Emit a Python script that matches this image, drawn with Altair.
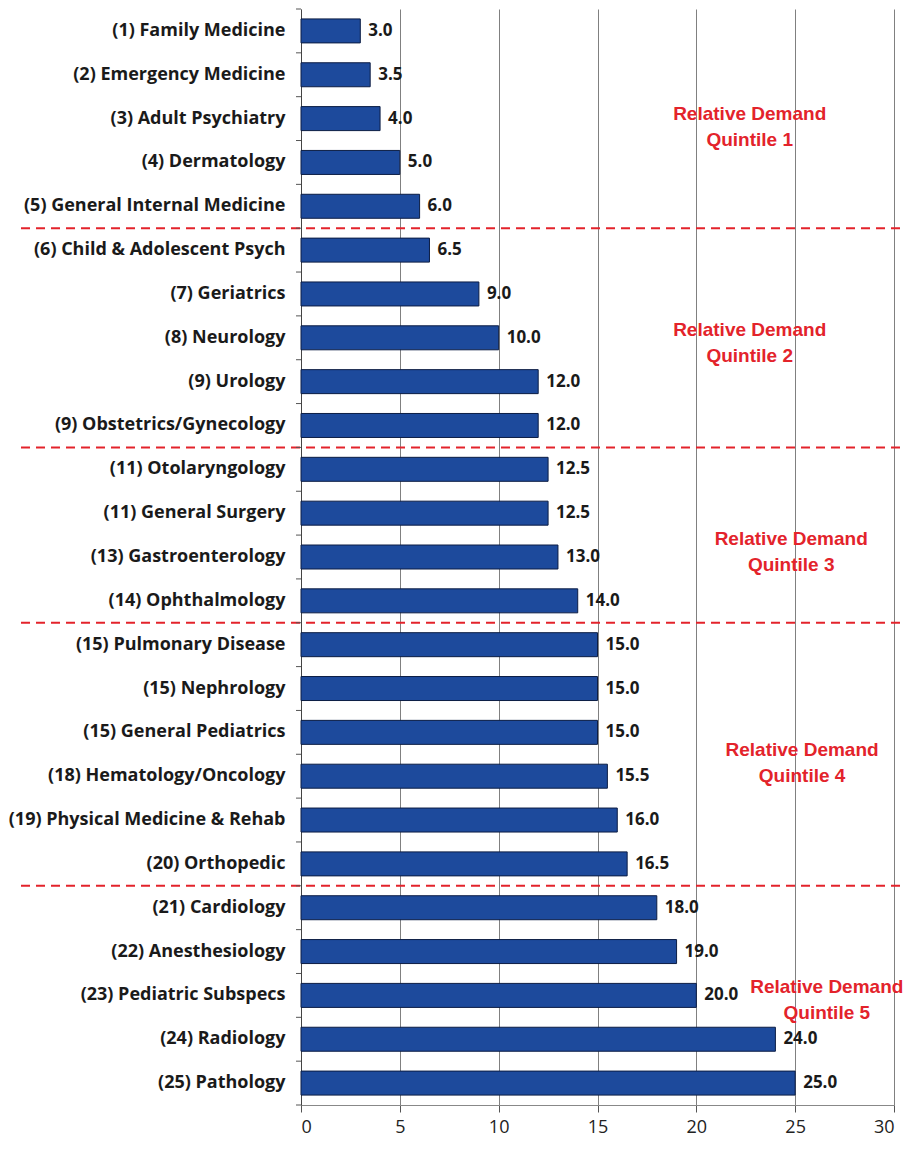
import altair as alt
import pandas as pd

specialties = [
    "(1) Family Medicine", "(2) Emergency Medicine", "(3) Adult Psychiatry",
    "(4) Dermatology", "(5) General Internal Medicine", "(6) Child & Adolescent Psych",
    "(7) Geriatrics", "(8) Neurology", "(9) Urology", "(9) Obstetrics/Gynecology",
    "(11) Otolaryngology", "(11) General Surgery", "(13) Gastroenterology",
    "(14) Ophthalmology", "(15) Pulmonary Disease", "(15) Nephrology",
    "(15) General Pediatrics", "(18) Hematology/Oncology",
    "(19) Physical Medicine & Rehab", "(20) Orthopedic", "(21) Cardiology",
    "(22) Anesthesiology", "(23) Pediatric Subspecs", "(24) Radiology",
    "(25) Pathology",
]
values = [3.0, 3.5, 4.0, 5.0, 6.0, 6.5, 9.0, 10.0, 12.0, 12.0, 12.5, 12.5, 13.0,
          14.0, 15.0, 15.0, 15.0, 15.5, 16.0, 16.5, 18.0, 19.0, 20.0, 24.0, 25.0]

# quintile boundaries (row index where a new quintile starts)
boundaries = [5, 10, 14, 20]
quintile_text = ["Relative Demand\nQuintile 1", "Relative Demand\nQuintile 2",
                 "Relative Demand\nQuintile 3", "Relative Demand\nQuintile 4",
                 "Relative Demand\nQuintile 5"]
quintile_x = [22.7, 22.7, 24.8, 25.35, 26.6]
quintile_row = [2.4, 7.33, 12.08, 16.9, 22.3]
row_ticks = list(range(0, 26))

df = pd.DataFrame({"specialty": specialties, "value": values})
bdf = pd.DataFrame({"row": boundaries})
qdf = pd.DataFrame({"text": quintile_text, "x": quintile_x, "row": quintile_row})
tdf = pd.DataFrame({"row": row_ticks})

ysc = alt.Scale(paddingInner=0, paddingOuter=0)
yenc = alt.Y("specialty:N", sort=specialties, scale=ysc, title=None,
             axis=alt.Axis(ticks=False, labelPadding=16, labelFontSize=18,
                           labelFont="Open Sans", labelFontWeight="bold",
                           labelColor="#1a1a1a", labelLimit=400,
                           domainColor="#444", domainWidth=1))
xenc = alt.X("value:Q", scale=alt.Scale(domain=[0, 30]), title=None,
             axis=alt.Axis(values=[0, 5, 10, 15, 20, 25, 30], grid=True,
                           gridColor="#808080", gridWidth=1, gridOpacity=1,
                           domainColor="#888", tickColor="#555", tickSize=7,
                           labelFont="Open Sans", labelFontSize=18,
                           labelColor="#222", labelPadding=6))

bars = alt.Chart(df).mark_bar(size=24, color="#1d4a9c", stroke="#0c1d44",
                              strokeWidth=1).encode(x=xenc, y=yenc)
labels = alt.Chart(df).mark_text(align="left", dx=8, font="Open Sans",
                                 fontWeight="bold", fontSize=17,
                                 color="#1a1a1a").encode(
    x="value:Q", y=alt.Y("specialty:N", sort=specialties),
    text=alt.Text("value:Q", format=".1f"))

qscale = alt.Scale(domain=[0, 25], reverse=True, nice=False, zero=False)

rules = alt.Chart(bdf).mark_rule(color="#e3232b", strokeWidth=2,
                                 strokeDash=[9, 6]).encode(
    y=alt.Y("row:Q", scale=qscale, axis=None),
    x=alt.value(-280), x2=alt.value(603))
yticks = alt.Chart(tdf).mark_rule(color="#555", strokeWidth=1).encode(
    y=alt.Y("row:Q", scale=qscale, axis=None),
    x=alt.value(-5), x2=alt.value(0))
qtext = alt.Chart(qdf).mark_text(lineBreak="\n", font="Liberation Sans",
                                 fontWeight="bold", fontSize=19,
                                 color="#e3232b", lineHeight=26,
                                 align="center", baseline="middle").encode(
    x=alt.X("x:Q"), y=alt.Y("row:Q", scale=qscale, axis=None), text="text:N")

main = alt.layer(bars, labels)
annot = alt.layer(rules, yticks, qtext)
chart = alt.layer(main, annot).resolve_scale(y="independent").properties(
    width=593, height=1096,
    padding={"left": 0, "top": 0, "right": 0, "bottom": 0},
).configure_view(stroke=None)

chart.save("out.html", embed_options={"renderer": "svg", "actions": False})
